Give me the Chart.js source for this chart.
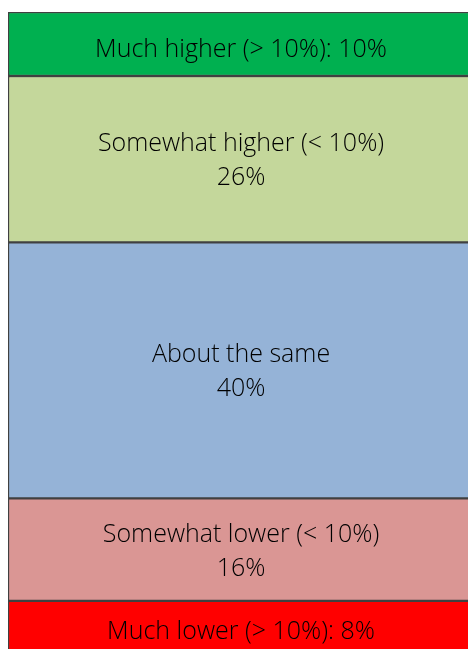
<!DOCTYPE html>
<html>
<head>
<meta charset="utf-8">
<script src="https://cdn.jsdelivr.net/npm/chart.js@4.4.1/dist/chart.umd.min.js"></script>
<style>
  html, body { margin: 0; padding: 0; background: #fff; overflow: hidden; }
  #wrap { position: absolute; left: 0; top: 0; width: 476px; height: 660px; }
</style>
</head>
<body>
<div id="wrap"><canvas id="c"></canvas></div>
<script>
// categories, top to bottom
const categories = ["Much higher (> 10%)", "Somewhat higher (< 10%)", "About the same", "Somewhat lower (< 10%)", "Much lower (> 10%)"];
const shares = [10, 26, 40, 16, 8];
const colours = ["#00B050", "#C4D79B", "#95B3D7", "#DA9694", "#FF0000"];
// the two extreme bands put name and value on one line
const oneLine = [true, false, false, false, true];

const datasets = categories.map((name, i) => ({
    label: name,
    data: [shares[i]],
    backgroundColor: colours[i],
    borderColor: "#404040",
    borderWidth: 1.5,
    borderSkipped: false
}));

// write the labels in the middle of each band
const bandLabels = {
    id: "bandLabels",
    afterDatasetsDraw(chart) {
        const ctx = chart.ctx;
        ctx.save();
        ctx.font = "300 25px 'Open Sans'";
        ctx.fillStyle = "#000";
        ctx.textAlign = "center";
        ctx.textBaseline = "alphabetic";
        chart.data.datasets.forEach((ds, i) => {
            const bar = chart.getDatasetMeta(i).data[0];
            const x = bar.x;
            const y = (bar.y + bar.base) / 2;
            if (oneLine[i]) {
                ctx.fillText(ds.label + ": " + ds.data[0] + "%", x, y + 13);
            } else {
                ctx.fillText(ds.label, x, y - 8);
                ctx.fillText(ds.data[0] + "%", x, y + 26);
            }
        });
        ctx.restore();
    }
};

new Chart(document.getElementById("c"), {
    type: "bar",
    data: { labels: [""], datasets: datasets },
    options: {
        responsive: true,
        maintainAspectRatio: false,
        animation: false,
        layout: { padding: { left: 8, top: 12, right: 2, bottom: 8 } },
        datasets: { bar: { barPercentage: 1, categoryPercentage: 1 } },
        plugins: { legend: { display: false }, tooltip: { enabled: false } },
        scales: {
            x: { stacked: true, display: false },
            y: { stacked: true, display: false, reverse: true, min: 0, max: 100 }
        }
    },
    plugins: [bandLabels]
});
</script>
</body>
</html>
